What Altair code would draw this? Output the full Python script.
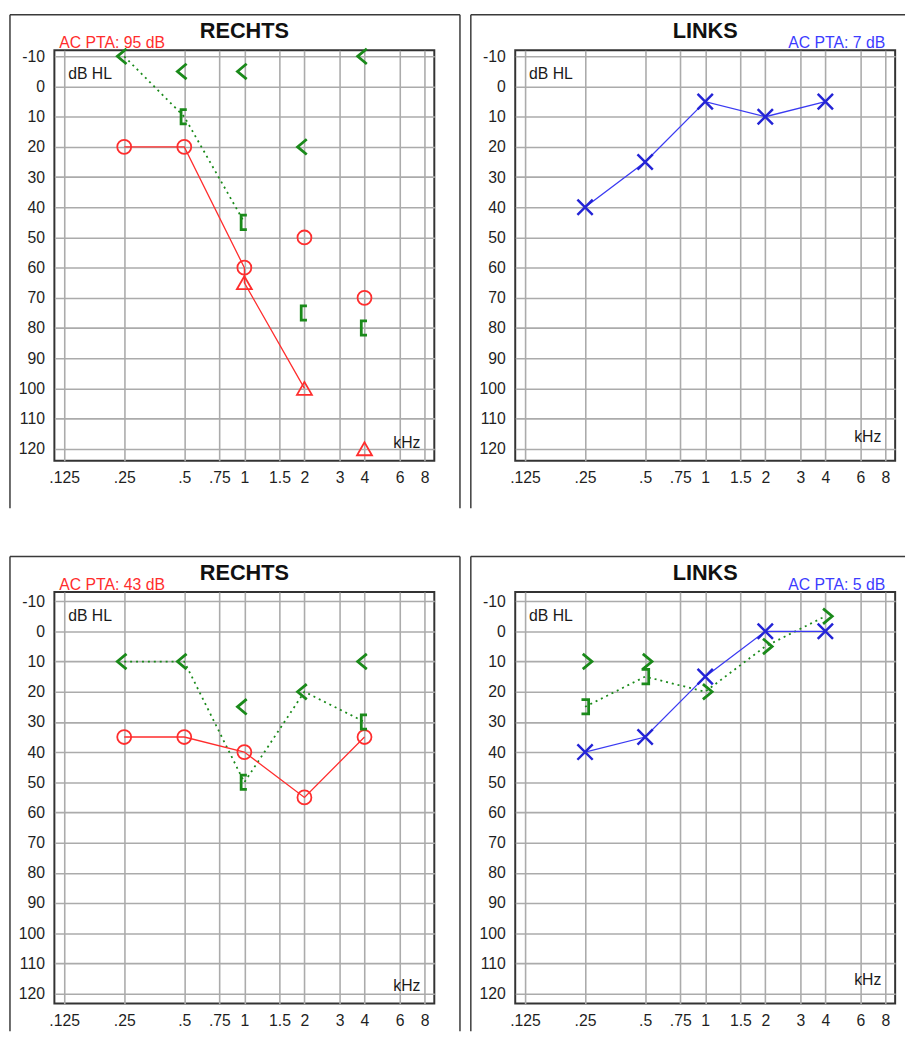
import altair as alt
import pandas as pd

# ---------------- axis ticks ----------------
FREQ_TICKS = [0.125, 0.25, 0.5, 0.75, 1, 1.5, 2, 3, 4, 6, 8]
FREQ_LABELS = [".125", ".25", ".5", ".75", "1", "1.5", "2", "3", "4", "6", "8"]
DB_TICKS = [-10, 0, 10, 20, 30, 40, 50, 60, 70, 80, 90, 100, 110, 120]

# ---------------- panel 1 : RECHTS (top) ----------------
P1_TITLE = "RECHTS"
P1_PTA = "AC PTA: 95 dB"
P1_AC_F = [0.25, 0.5, 1, 2, 4]
P1_AC_DB = [20, 20, 60, 50, 70]
P1_MAC_F = [1, 2, 4]
P1_MAC_DB = [65, 100, 120]
P1_BC_F = [0.25, 0.5, 1, 2, 4]
P1_BC_DB = [-10, -5, -5, 20, -10]
P1_MBC_F = [0.5, 1, 2, 4]
P1_MBC_DB = [10, 45, 75, 80]
P1_RED_LINE_F = [0.25, 0.5, 1, 1, 2]
P1_RED_LINE_DB = [20, 20, 60, 65, 100]
P1_GREEN_LINE_F = [0.25, 0.5, 1]
P1_GREEN_LINE_DB = [-10, 10, 45]

# ---------------- panel 2 : LINKS (top) ----------------
P2_TITLE = "LINKS"
P2_PTA = "AC PTA: 7 dB"
P2_AC_F = [0.25, 0.5, 1, 2, 4]
P2_AC_DB = [40, 25, 5, 10, 5]

# ---------------- panel 3 : RECHTS (bottom) ----------------
P3_TITLE = "RECHTS"
P3_PTA = "AC PTA: 43 dB"
P3_AC_F = [0.25, 0.5, 1, 2, 4]
P3_AC_DB = [35, 35, 40, 55, 35]
P3_BC_F = [0.25, 0.5, 1, 2, 4]
P3_BC_DB = [10, 10, 25, 20, 10]
P3_MBC_F = [1, 4]
P3_MBC_DB = [50, 30]
P3_GREEN_LINE_F = [0.25, 0.5, 1, 2, 4]
P3_GREEN_LINE_DB = [10, 10, 50, 20, 30]

# ---------------- panel 4 : LINKS (bottom) ----------------
P4_TITLE = "LINKS"
P4_PTA = "AC PTA: 5 dB"
P4_AC_F = [0.25, 0.5, 1, 2, 4]
P4_AC_DB = [40, 35, 15, 0, 0]
P4_BC_F = [0.25, 0.5, 1, 2, 4]
P4_BC_DB = [10, 10, 20, 5, -5]
P4_MBC_F = [0.25, 0.5]
P4_MBC_DB = [25, 15]
P4_GREEN_LINE_F = [0.25, 0.5, 1, 2, 4]
P4_GREEN_LINE_DB = [25, 15, 20, 5, -5]

# ---------------- styling ----------------
RED = "#ff2d2d"
BLUE_X = "#2424d6"
BLUE_LINE = "#3a3af2"
BLUE_TXT = "#3c3cff"
GREEN = "#1a8a1a"
FRAME = "#3a3a3a"
FONT = "Liberation Sans"
W = 385

X_PATH = "M-1,-1L1,1M1,-1L-1,1"
LT_PATH = "M0.3,-1L-0.9,0L0.3,1"
GT_PATH = "M-0.3,-1L0.9,0L-0.3,1"
LB_PATH = "M0.35,-1L-0.45,-1L-0.45,1L0.35,1"
RB_PATH = "M-0.5,-1L0.5,-1L0.5,1L-0.5,1"

label_expr = " : ".join(
    f"datum.value == {v} ? '{l}'" for v, l in zip(FREQ_TICKS, FREQ_LABELS)
) + " : ''"

xs = alt.Scale(type="log", base=2, domain=[0.1117, 8.95], nice=False)
AX = dict(title=None, grid=True, ticks=False, tickSize=0, domain=False,
          labelFont=FONT, labelFontSize=16, labelColor="#1f1f1f",
          gridColor="#ababab", gridWidth=1.6, gridOpacity=1)
x_axis = alt.Axis(values=FREQ_TICKS, labelExpr=label_expr, labelOverlap=False,
                  labelFlush=False, labelPadding=9, **AX)
y_axis = alt.Axis(values=DB_TICKS, labelExpr="'' + datum.value", labelPadding=10, **AX)


def df(f, db):
    return pd.DataFrame({"f": f, "db": db, "i": list(range(len(f)))})


def make_enc(ydom):
    ys = alt.Scale(domain=ydom, reverse=True, nice=False, zero=False)

    def enc(chart):
        return chart.encode(
            x=alt.X("f:Q", scale=xs, axis=x_axis),
            y=alt.Y("db:Q", scale=ys, axis=y_axis),
        )
    return enc


def panel(title, pta, pta_color, left_side, specs, frame_bottom, ydom, height):
    enc = make_enc(ydom)
    layers = []
    for kind, f, db, style in specs:
        if kind == "line":
            kw = dict(color=style[0], strokeWidth=style[1])
            if len(style) > 2:
                kw["strokeDash"] = style[2]
            layers.append(enc(alt.Chart(df(f, db)).mark_line(**kw)).encode(order=alt.Order("i:Q")))
        else:
            shape, color, size, width = style
            layers.append(enc(alt.Chart(df(f, db)).mark_point(
                shape=shape, filled=False, color=color, size=size,
                strokeWidth=width, opacity=1)))

    base = alt.Chart(alt.Data(values=[{"k": 0}]))
    fr = dict(color=FRAME, strokeWidth=1.5)
    right_end = 411 if left_side else 395
    deco = [
        base.mark_rule(**fr).encode(x=alt.value(-45), y=alt.value(-36), y2=alt.value(frame_bottom)),
        base.mark_rule(**fr).encode(x=alt.value(-45), x2=alt.value(right_end), y=alt.value(-36)),
    ]
    if left_side:
        deco.append(base.mark_rule(**fr).encode(x=alt.value(411), y=alt.value(-36), y2=alt.value(frame_bottom)))
    deco.append(base.mark_text(text=title, font=FONT, fontSize=22, fontWeight="bold",
                               color="#111111", align="center", baseline="alphabetic")
                .encode(x=alt.value(W / 2), y=alt.value(-12)))
    if left_side:
        deco.append(base.mark_text(text=pta, font=FONT, fontSize=16, color=pta_color,
                                   align="left", baseline="alphabetic")
                    .encode(x=alt.value(5), y=alt.value(-2)))
    else:
        deco.append(base.mark_text(text=pta, font=FONT, fontSize=16, color=pta_color,
                                   align="right", baseline="alphabetic")
                    .encode(x=alt.value(375), y=alt.value(-2)))
    deco.append(base.mark_text(text="dB HL", font=FONT, fontSize=16, color="#1a1a1a",
                               align="left", baseline="alphabetic")
                .encode(x=alt.value(14), y=alt.value(29)))
    deco.append(base.mark_text(text="kHz", font=FONT, fontSize=16, color="#1a1a1a",
                               align="right", baseline="alphabetic")
                .encode(x=alt.value(371), y=alt.value(height - 13 if left_side else height - 19)))
    return alt.layer(*layers, *deco).properties(width=W, height=height)


CIRC = ("circle", RED, 200, 1.8)
TRI = ("triangle-up", RED, 230, 1.8)
XS = (X_PATH, BLUE_X, 240, 2.5)
LT = (LT_PATH, GREEN, 240, 2.8)
GT = (GT_PATH, GREEN, 240, 2.8)
LB = (LB_PATH, GREEN, 210, 2.8)
RB = (RB_PATH, GREEN, 210, 2.8)
RED_LINE = (RED, 1.3)
BLUE_L = (BLUE_LINE, 1.3)
GREEN_DOT = (GREEN, 1.8, [2, 4])

TOP_DOM, TOP_H = [-12, 124], 416
BOT_DOM, BOT_H = [-13, 123.3], 417

p1 = panel(P1_TITLE, P1_PTA, RED, True, [
    ("line", P1_GREEN_LINE_F, P1_GREEN_LINE_DB, GREEN_DOT),
    ("line", P1_RED_LINE_F, P1_RED_LINE_DB, RED_LINE),
    ("pt", P1_AC_F, P1_AC_DB, CIRC),
    ("pt", P1_MAC_F, P1_MAC_DB, TRI),
    ("pt", P1_BC_F, P1_BC_DB, LT),
    ("pt", P1_MBC_F, P1_MBC_DB, LB),
], 464, TOP_DOM, TOP_H)

p2 = panel(P2_TITLE, P2_PTA, BLUE_TXT, False, [
    ("line", P2_AC_F, P2_AC_DB, BLUE_L),
    ("pt", P2_AC_F, P2_AC_DB, XS),
], 464, TOP_DOM, TOP_H)

p3 = panel(P3_TITLE, P3_PTA, RED, True, [
    ("line", P3_GREEN_LINE_F, P3_GREEN_LINE_DB, GREEN_DOT),
    ("line", P3_AC_F, P3_AC_DB, RED_LINE),
    ("pt", P3_AC_F, P3_AC_DB, CIRC),
    ("pt", P3_BC_F, P3_BC_DB, LT),
    ("pt", P3_MBC_F, P3_MBC_DB, LB),
], 445, BOT_DOM, BOT_H)

p4 = panel(P4_TITLE, P4_PTA, BLUE_TXT, False, [
    ("line", P4_GREEN_LINE_F, P4_GREEN_LINE_DB, GREEN_DOT),
    ("line", P4_AC_F, P4_AC_DB, BLUE_L),
    ("pt", P4_AC_F, P4_AC_DB, XS),
    ("pt", P4_BC_F, P4_BC_DB, GT),
    ("pt", P4_MBC_F, P4_MBC_DB, RB),
], 445, BOT_DOM, BOT_H)

chart = alt.concat(
    p1, p2, p3, p4, columns=2, spacing={"row": 133, "column": 82}, bounds="flush",
    padding={"left": 0, "top": -2, "right": 0, "bottom": 0}, background="white",
).configure_view(
    stroke="#333333", strokeWidth=2
)

chart.save("out.html", embed_options={"renderer": "svg", "actions": False})
